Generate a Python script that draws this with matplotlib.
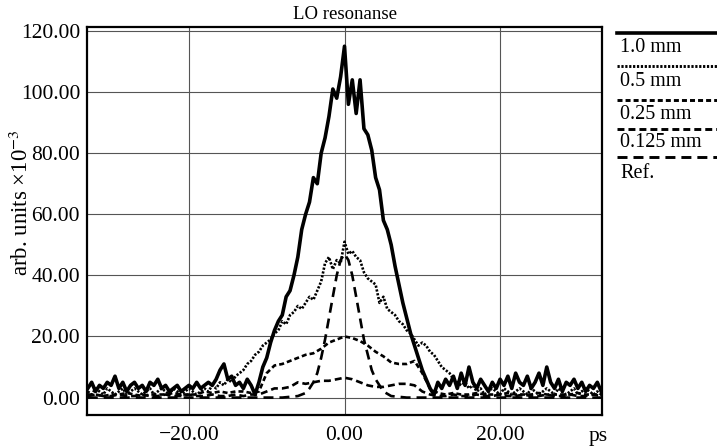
import numpy as np
import matplotlib
matplotlib.use('Agg')
import matplotlib.pyplot as plt
from matplotlib.ticker import FuncFormatter

plt.rcParams['font.family'] = ['Liberation Serif', 'DejaVu Serif']
plt.rcParams['mathtext.fontset'] = 'stix'
plt.rcParams['lines.scale_dashes'] = False

# --- data (ps, arb. units x 1e-3) ---
x_fine = np.arange(-33, 33.01, 0.5)
x_coarse = np.arange(-33, 33.01, 1.0)

solid_1mm = [
    3, 5, 2, 4, 3, 5, 4, 7, 3, 5,
    2, 4, 5, 3, 4, 2, 5, 4, 6, 3,
    4, 2, 3, 4, 2, 3, 4, 3, 5, 3,
    4, 5, 4, 6, 9, 11, 6, 7, 4, 5,
    3, 6, 4, 1, 5, 10, 13, 18, 22, 25,
    27, 33, 35, 40, 46, 55, 60, 64, 72, 70,
    80, 85, 92, 101, 98, 105, 115, 96, 104, 93,
    104, 88, 86, 81, 72, 68, 58, 55, 50, 43,
    37, 31, 26, 21, 17, 13, 9, 6, 3, 1,
    5, 3, 6, 4, 7, 3, 8, 4, 10, 5,
    3, 6, 4, 2, 5, 3, 6, 4, 7, 3,
    8, 5, 4, 7, 3, 5, 8, 4, 10, 5,
    3, 6, 2, 5, 4, 6, 3, 5, 2, 4,
    3, 5, 2,
]

dotted_05mm = [
    2, 1, 3, 2, 1, 3, 2, 1, 2, 3,
    1, 2, 3, 2, 1, 2, 3, 1, 2, 3,
    2, 1, 3, 2, 1, 2, 3, 2, 1, 2,
    3, 2, 4, 3, 5, 4, 6, 5, 7, 8,
    9, 11, 12, 14, 15, 17, 18, 19, 21, 22,
    25, 24, 27, 28, 30, 29, 31, 33, 32, 35,
    38, 44, 46, 42, 45, 44, 51, 47, 48, 46,
    45, 41, 39, 38, 37, 31, 33, 29, 28, 27,
    25, 24, 22, 21, 19, 17, 18, 17, 15, 14,
    12, 10, 9, 8, 6, 5, 4, 5, 3, 4,
    2, 3, 1, 2, 3, 2, 1, 3, 2, 1,
    2, 3, 2, 1, 3, 2, 1, 2, 3, 2,
    1, 3, 2, 1, 2, 3, 1, 2, 3, 2,
    1, 2, 1,
]

dash_025mm = [
    1, 1, 0.5, 1, 1, 1.5, 1, 0.5, 1, 1,
    1, 1.5, 1, 1, 1, 2, 1.5, 2, 1.5, 2,
    2, 1.5, 2, 8, 10.5, 11, 12, 13, 14, 14.5,
    16, 18, 19, 20, 19.5, 18.5, 17, 15, 13.5, 11.5,
    11, 11, 12, 8, 3, 1.5, 1, 1.5, 1, 1,
    1.5, 1, 1, 1, 1.5, 1, 1, 1, 1.5, 1,
    1, 1, 1, 1.5, 1, 1, 1,
]

dash_0125mm = [
    0.5, 1, 0.5, 0.5, 1, 0.5, 0.5, 1, 0.5, 0.5,
    1, 0.5, 0.5, 1, 0.5, 0.5, 1, 0.5, 0.5, 1,
    0.5, 1, 1, 2, 3, 3, 3.5, 5, 4.5, 5,
    5.5, 5.5, 6, 6.5, 6, 5, 4, 3.5, 3.5, 4,
    4.5, 4.5, 4, 2, 1, 0.5, 0.5, 1, 0.5, 0.5,
    1, 0.5, 0.5, 1, 0.5, 0.5, 1, 0.5, 0.5, 1,
    0.5, 0.5, 1, 0.5, 0.5, 1, 0.5,
]

ref_x = [-33, -8, -6, -5, -4.5, -4, -3.5, -3, -2.5, -2, -1.5, -1, -0.5, 0,
         0.5, 1, 1.5, 2, 2.5, 3, 3.5, 4, 4.5, 5, 6, 8, 33]
ref_y = [0, 0, 0.5, 1.5, 3, 5, 8, 13, 19, 26, 33, 40, 45, 47,
         45, 40, 33, 26, 19, 14, 9, 6, 4, 2, 0.5, 0, 0]

labels = ['1.0 mm', '0.5 mm', '0.25 mm', '0.125 mm', 'Ref.']

# line styles (points, dpi 100)
styles = [
    dict(ls='-', lw=2.6),
    dict(ls=(0, (1.6, 1.2)), lw=1.9),
    dict(ls=(0, (3.6, 2.2)), lw=1.9),
    dict(ls=(0, (5.0, 2.9)), lw=1.9),
    dict(ls=(0, (7.2, 4.3)), lw=1.9),
]

fig = plt.figure(figsize=(7.17, 4.48), dpi=100)
ax = fig.add_axes([87 / 717, 33 / 448, 515 / 717, 388 / 448])

series = [
    (x_fine, solid_1mm),
    (x_fine, dotted_05mm),
    (x_coarse, dash_025mm),
    (x_coarse, dash_0125mm),
    (ref_x, ref_y),
]
for (xs, ys), st in zip(series, styles):
    ax.plot(xs, ys, color='black', linestyle=st['ls'], linewidth=st['lw'],
            solid_joinstyle='round')

ax.set_xlim(-33.1, 33.1)
ax.set_ylim(-5.7, 121.3)
ax.set_xticks([-20, 0, 20])
ax.set_yticks([0, 20, 40, 60, 80, 100, 120])
fmt = FuncFormatter(lambda v, _: f'{v:.2f}'.replace('-', '\u2212'))
ax.xaxis.set_major_formatter(fmt)
ax.yaxis.set_major_formatter(fmt)
ax.tick_params(length=0, labelsize=15.5, colors='black')
ax.tick_params(axis='x', pad=8)
ax.tick_params(axis='y', pad=5)
ax.grid(True, color='#555555', linewidth=0.8)
ax.set_axisbelow(True)
for sp in ax.spines.values():
    sp.set_linewidth(1.6)

ax.set_title('LO resonanse', fontsize=13.5, pad=6)
fig.text(21 / 717, 1 - 203 / 448, 'arb. units \u00d710$^{-3}$', rotation=90,
         ha='center', va='center', fontsize=16.5)
fig.text(598 / 717, 1 - 436 / 448, 'ps', ha='center', va='center', fontsize=15.5)

# custom legend: line above each label, right of the plot
leg = fig.add_axes([0, 0, 1, 1], facecolor='none')
leg.set_xlim(0, 717)
leg.set_ylim(448, 0)
leg.axis('off')
line_y = [33.5, 66, 100, 129.5, 157]
text_y = [47.5, 81, 114.5, 142.5, 173]
for ly, ty, lab, st in zip(line_y, text_y, labels, styles):
    leg.plot([617, 717], [ly, ly], color='black', linestyle=st['ls'],
             linewidth=2.6 if st['ls'] == '-' else 2.1, clip_on=False)
    leg.text(620, ty, lab, ha='left', va='center', fontsize=14.5)

fig.savefig('out.png', dpi=100)
